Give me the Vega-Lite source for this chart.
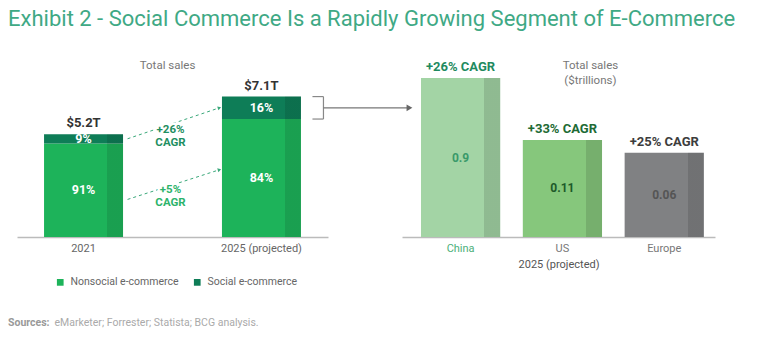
{
  "$schema": "https://vega.github.io/schema/vega-lite/v6.json",
  "padding": {"left": 8, "top": 8, "right": 5, "bottom": 5},
  "background": "white",
  "title": {"text": "Exhibit 2 - Social Commerce Is a Rapidly Growing Segment of E-Commerce", "anchor": "start", "font": "Roboto", "fontSize": 22, "fontWeight": "normal", "color": "#3fa985", "offset": 28},
  "bounds": "flush",
  "spacing": 74,
  "config": {
    "view": {"stroke": null},
    "font": "Roboto",
    "axisX": {"labelAngle": 0, "domainColor": "#bbbbbb", "domainWidth": 1.5, "ticks": false, "labelColor": "#666666", "labelFontSize": 11, "labelPadding": 5, "labelFont": "Roboto", "grid": false, "titleFont": "Roboto", "titleFontSize": 11, "titleFontWeight": "normal", "titleColor": "#555555", "titlePadding": 5}
  },
  "datasets": {
    "segments": [
      {"year": "2021", "segment": "Nonsocial e-commerce", "share": 0.91, "value": 4.732},
      {"year": "2021", "segment": "Social e-commerce", "share": 0.09, "value": 0.468},
      {"year": "2025 (projected)", "segment": "Nonsocial e-commerce", "share": 0.84, "value": 5.964},
      {"year": "2025 (projected)", "segment": "Social e-commerce", "share": 0.16, "value": 1.136}
    ],
    "totals": [
      {"year": "2021", "total": 5.2, "label": "$5.2T"},
      {"year": "2025 (projected)", "total": 7.1, "label": "$7.1T"}
    ],
    "social": [
      {"country": "China", "value": 0.9, "cagr": "+26% CAGR"},
      {"country": "US", "value": 0.11, "cagr": "+33% CAGR"},
      {"country": "Europe", "value": 0.06, "cagr": "+25% CAGR"}
    ],
    "one": [{}]
  },
  "hconcat": [
    {
      "width": 311,
      "height": 178,
      "layer": [
        {
          "data": {"name": "segments"},
          "mark": {"type": "bar"},
          "encoding": {
            "x": {"field": "year", "type": "nominal", "title": null, "scale": {"domain": ["2021", "2025 (projected)"], "paddingInner": 0.556, "paddingOuter": 0.152}},
            "y": {"field": "value", "type": "quantitative", "stack": "zero", "scale": {"domain": [0, 9], "nice": false}, "axis": null},
            "color": {"field": "segment", "type": "nominal", "scale": {"domain": ["Nonsocial e-commerce", "Social e-commerce"], "range": ["#1db35a", "#0e7d57"]},
              "legend": {"orient": "none", "legendX": 38, "legendY": 218, "direction": "horizontal", "title": null, "symbolType": "square", "symbolSize": 45, "symbolStrokeWidth": 0, "labelFontSize": 10.5, "labelColor": "#666666", "labelFont": "Roboto", "columnPadding": 13, "labelOffset": 5}},
            "order": {"field": "segment", "sort": "ascending"}
          }
        },
        {
          "data": {"name": "totals"},
          "mark": {"type": "bar", "fill": {"gradient": "linear", "x1": 0, "y1": 0, "x2": 1, "y2": 0, "stops": [{"offset": 0, "color": "rgba(0,0,0,0)"}, {"offset": 0.8, "color": "rgba(0,0,0,0)"}, {"offset": 0.8, "color": "rgba(0,0,0,0.11)"}, {"offset": 1, "color": "rgba(0,0,0,0.11)"}]}},
          "encoding": {
            "x": {"field": "year", "type": "nominal", "title": null},
            "y": {"field": "total", "type": "quantitative", "axis": null}
          }
        },
        {
          "data": {"name": "segments"},
          "transform": [
            {"stack": "value", "groupby": ["year"], "sort": [{"field": "segment", "order": "ascending"}], "as": ["v0", "v1"]},
            {"calculate": "(datum.v0 + datum.v1) / 2", "as": "mid"}
          ],
          "mark": {"type": "text", "color": "white", "fontWeight": "bold", "fontSize": 12.5, "baseline": "middle"},
          "encoding": {
            "x": {"field": "year", "type": "nominal", "title": null},
            "y": {"field": "mid", "type": "quantitative", "axis": null},
            "text": {"field": "share", "format": ".0%"}
          }
        },
        {
          "data": {"name": "totals"},
          "mark": {"type": "text", "color": "#333333", "fontWeight": "bold", "fontSize": 13, "baseline": "bottom", "dy": -4},
          "encoding": {
            "x": {"field": "year", "type": "nominal", "title": null},
            "y": {"field": "total", "type": "quantitative", "axis": null},
            "text": {"field": "label"}
          }
        },
        {
          "data": {"name": "one"},
          "mark": {"type": "text", "color": "#777777", "fontSize": 11.5, "baseline": "middle", "xOffset": 84},
          "encoding": {
            "x": {"datum": "2021", "type": "nominal", "title": null},
            "y": {"datum": 8.65, "type": "quantitative", "axis": null},
            "text": {"value": "Total sales"}
          }
        },
        {
          "data": {"name": "one"},
          "mark": {"type": "rule", "color": "#3aa87a", "strokeWidth": 1, "strokeDash": [3, 3], "xOffset": 44, "x2Offset": -42},
          "encoding": {
            "x": {"datum": "2021", "type": "nominal", "title": null},
            "x2": {"datum": "2025 (projected)"},
            "y": {"datum": 4.966, "type": "quantitative", "axis": null},
            "y2": {"datum": 6.532}
          }
        },
        {
          "data": {"name": "one"},
          "mark": {"type": "point", "shape": "triangle-right", "filled": true, "size": 16, "color": "#3aa87a", "opacity": 1, "angle": 342, "xOffset": -42},
          "encoding": {
            "x": {"datum": "2025 (projected)", "type": "nominal", "title": null},
            "y": {"datum": 6.532, "type": "quantitative", "axis": null}
          }
        },
        {
          "data": {"name": "one"},
          "mark": {"type": "rule", "color": "#3aa87a", "strokeWidth": 1, "strokeDash": [3, 3], "xOffset": 44, "x2Offset": -42},
          "encoding": {
            "x": {"datum": "2021", "type": "nominal", "title": null},
            "x2": {"datum": "2025 (projected)"},
            "y": {"datum": 1.9, "type": "quantitative", "axis": null},
            "y2": {"datum": 3.4}
          }
        },
        {
          "data": {"name": "one"},
          "mark": {"type": "point", "shape": "triangle-right", "filled": true, "size": 16, "color": "#3aa87a", "opacity": 1, "angle": 343, "xOffset": -42},
          "encoding": {
            "x": {"datum": "2025 (projected)", "type": "nominal", "title": null},
            "y": {"datum": 3.4, "type": "quantitative", "axis": null}
          }
        },
        {
          "data": {"name": "one"},
          "mark": {"type": "text", "fontWeight": "bold", "fontSize": 11.5, "lineHeight": 13, "baseline": "middle", "xOffset": 87, "stroke": "white", "strokeWidth": 5, "color": "white"},
          "encoding": {
            "x": {"datum": "2021", "type": "nominal", "title": null},
            "y": {"datum": 5.4, "type": "quantitative", "axis": null},
            "text": {"value": ["+26%", "CAGR"]}
          }
        },
        {
          "data": {"name": "one"},
          "mark": {"type": "text", "fontWeight": "bold", "fontSize": 11.5, "lineHeight": 13, "baseline": "middle", "xOffset": 87, "color": "#1f8f62"},
          "encoding": {
            "x": {"datum": "2021", "type": "nominal", "title": null},
            "y": {"datum": 5.4, "type": "quantitative", "axis": null},
            "text": {"value": ["+26%", "CAGR"]}
          }
        },
        {
          "data": {"name": "one"},
          "mark": {"type": "text", "fontWeight": "bold", "fontSize": 11.5, "lineHeight": 13, "baseline": "middle", "xOffset": 87, "stroke": "white", "strokeWidth": 5, "color": "white"},
          "encoding": {
            "x": {"datum": "2021", "type": "nominal", "title": null},
            "y": {"datum": 2.38, "type": "quantitative", "axis": null},
            "text": {"value": ["+5%", "CAGR"]}
          }
        },
        {
          "data": {"name": "one"},
          "mark": {"type": "text", "fontWeight": "bold", "fontSize": 11.5, "lineHeight": 13, "baseline": "middle", "xOffset": 87, "color": "#2db36b"},
          "encoding": {
            "x": {"datum": "2021", "type": "nominal", "title": null},
            "y": {"datum": 2.38, "type": "quantitative", "axis": null},
            "text": {"value": ["+5%", "CAGR"]}
          }
        },
        {
          "data": {"name": "one"},
          "mark": {"type": "rule", "color": "#888888", "strokeWidth": 1.2, "xOffset": 62},
          "encoding": {
            "x": {"datum": "2025 (projected)", "type": "nominal", "title": null},
            "y": {"datum": 5.964, "type": "quantitative", "axis": null},
            "y2": {"datum": 7.1}
          }
        },
        {
          "data": {"name": "one"},
          "mark": {"type": "rule", "color": "#888888", "strokeWidth": 1.2, "xOffset": 51, "x2Offset": 62},
          "encoding": {
            "x": {"datum": "2025 (projected)", "type": "nominal", "title": null},
            "x2": {"datum": "2025 (projected)"},
            "y": {"datum": 7.1, "type": "quantitative", "axis": null}
          }
        },
        {
          "data": {"name": "one"},
          "mark": {"type": "rule", "color": "#888888", "strokeWidth": 1.2, "xOffset": 51, "x2Offset": 62},
          "encoding": {
            "x": {"datum": "2025 (projected)", "type": "nominal", "title": null},
            "x2": {"datum": "2025 (projected)"},
            "y": {"datum": 5.964, "type": "quantitative", "axis": null}
          }
        },
        {
          "data": {"name": "one"},
          "mark": {"type": "rule", "color": "#777777", "strokeWidth": 1.2, "xOffset": 62, "x2Offset": 147},
          "encoding": {
            "x": {"datum": "2025 (projected)", "type": "nominal", "title": null},
            "x2": {"datum": "2025 (projected)"},
            "y": {"datum": 6.532, "type": "quantitative", "axis": null}
          }
        },
        {
          "data": {"name": "one"},
          "mark": {"type": "point", "shape": "triangle-right", "filled": true, "size": 45, "color": "#666666", "opacity": 1, "xOffset": 148},
          "encoding": {
            "x": {"datum": "2025 (projected)", "type": "nominal", "title": null},
            "y": {"datum": 6.532, "type": "quantitative", "axis": null}
          }
        },
        {
          "data": {"name": "one"},
          "mark": {"type": "text", "color": "#999999", "fontWeight": "bold", "fontSize": 10.5, "align": "left", "baseline": "middle", "xOffset": -75.5},
          "encoding": {
            "x": {"datum": "2021", "type": "nominal", "title": null},
            "y": {"datum": -4.35, "type": "quantitative", "axis": null},
            "text": {"value": "Sources:"}
          }
        },
        {
          "data": {"name": "one"},
          "mark": {"type": "text", "color": "#aaaaaa", "fontSize": 10.5, "align": "left", "baseline": "middle", "xOffset": -29},
          "encoding": {
            "x": {"datum": "2021", "type": "nominal", "title": null},
            "y": {"datum": -4.35, "type": "quantitative", "axis": null},
            "text": {"value": "eMarketer; Forrester; Statista; BCG analysis."}
          }
        }
      ]
    },
    {
      "width": 313,
      "height": 178,
      "resolve": {"scale": {"color": "independent"}},
      "layer": [
        {
          "data": {"name": "social"},
          "mark": {"type": "bar"},
          "encoding": {
            "x": {"field": "country", "type": "nominal", "sort": ["China", "US", "Europe"], "title": "2025 (projected)",
              "scale": {"domain": ["China", "US", "Europe"], "paddingInner": 0.222, "paddingOuter": 0.148, "align": 0.63},
              "axis": {"labelColor": {"condition": {"test": "datum.value === 'China'", "value": "#4caf7a"}, "value": "#777777"}}},
            "y": {"field": "value", "type": "quantitative", "scale": {"type": "pow", "exponent": 0.235, "domain": [0, 1.455], "nice": false}, "axis": null},
            "color": {"field": "country", "type": "nominal", "scale": {"domain": ["China", "US", "Europe"], "range": ["#a3d4a5", "#86c77c", "#808183"]}, "legend": null}
          }
        },
        {
          "data": {"name": "social"},
          "mark": {"type": "bar", "fill": {"gradient": "linear", "x1": 0, "y1": 0, "x2": 1, "y2": 0, "stops": [{"offset": 0, "color": "rgba(0,0,0,0)"}, {"offset": 0.8, "color": "rgba(0,0,0,0)"}, {"offset": 0.8, "color": "rgba(0,0,0,0.12)"}, {"offset": 1, "color": "rgba(0,0,0,0.12)"}]}},
          "encoding": {
            "x": {"field": "country", "type": "nominal", "sort": ["China", "US", "Europe"], "title": "2025 (projected)"},
            "y": {"field": "value", "type": "quantitative", "axis": null}
          }
        },
        {
          "data": {"name": "social"},
          "mark": {"type": "text", "fontWeight": "bold", "fontSize": 13, "baseline": "bottom", "dy": -4},
          "encoding": {
            "x": {"field": "country", "type": "nominal", "sort": ["China", "US", "Europe"], "title": "2025 (projected)"},
            "y": {"field": "value", "type": "quantitative", "axis": null},
            "text": {"field": "cagr"},
            "color": {"field": "country", "type": "nominal", "scale": {"domain": ["China", "US", "Europe"], "range": ["#1f8a60", "#1e6b35", "#3d3d3d"]}, "legend": null}
          }
        },
        {
          "data": {"name": "social"},
          "transform": [{"calculate": "datum.value * pow(0.5, 1 / 0.235)", "as": "mid"}],
          "mark": {"type": "text", "fontWeight": "bold", "fontSize": 12, "baseline": "middle"},
          "encoding": {
            "x": {"field": "country", "type": "nominal", "sort": ["China", "US", "Europe"], "title": "2025 (projected)"},
            "y": {"field": "mid", "type": "quantitative", "axis": null},
            "text": {"field": "value", "format": "~g"},
            "color": {"field": "country", "type": "nominal", "scale": {"domain": ["China", "US", "Europe"], "range": ["#3a9a6a", "#1d5a2a", "#555555"]}, "legend": null}
          }
        },
        {
          "data": {"name": "one"},
          "mark": {"type": "text", "color": "#777777", "fontSize": 11.5, "lineHeight": 15, "baseline": "middle", "xOffset": 28},
          "encoding": {
            "x": {"datum": "US", "type": "nominal", "title": "2025 (projected)"},
            "y": {"datum": 1.227, "type": "quantitative", "axis": null},
            "text": {"value": ["Total sales", "($trillions)"]}
          }
        }
      ]
    }
  ],
  "resolve": {"scale": {"color": "independent"}, "legend": {"color": "independent"}}
}
